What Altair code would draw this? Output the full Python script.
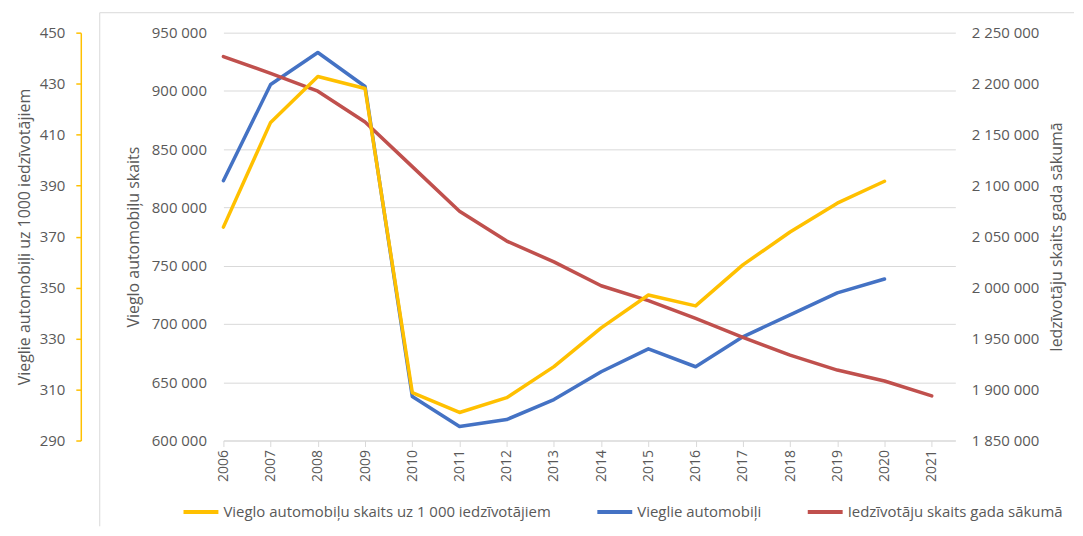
import altair as alt
import pandas as pd

years = list(range(2006, 2022))
cars = [823000, 905500, 933000, 903800, 637700, 612000, 618000, 635100,
        659000, 678700, 663300, 689000, 707800, 726700, 738600]
cars_per_1000 = [373.7, 414.8, 432.8, 428.1, 308.8, 301.0, 306.8, 319.0,
                 334.2, 347.1, 342.8, 358.9, 371.8, 383.1, 391.7]
population = [2226600, 2210100, 2192600, 2162400, 2118600, 2074800, 2045600,
              2025200, 2001800, 1987200, 1969700, 1951200, 1933700, 1919100,
              1908400, 1893800]

s_rate = "Vieglo automobiļu skaits uz 1 000 iedzīvotājiem"
s_cars = "Vieglie automobiļi"
s_pop = "Iedzīvotāju skaits gada sākumā"
series_names = [s_rate, s_cars, s_pop]
series_colors = ["#FFC000", "#4472C4", "#C0504D"]

left_ticks = [290, 310, 330, 350, 370, 390, 410, 430, 450]
mid_ticks = list(range(600000, 950001, 50000))
right_ticks = list(range(1850000, 2250001, 50000))

df_rate = pd.DataFrame({"year": years[:len(cars_per_1000)], "value": cars_per_1000, "series": s_rate})
df_cars = pd.DataFrame({"year": years[:len(cars)], "value": cars, "series": s_cars})
df_pop = pd.DataFrame({"year": years, "value": population, "series": s_pop})

FONT = "Open Sans"
GRAY = "#595959"
LBL = 15
TTL = 16
space_fmt = "replace(replace(format(datum.value, ','), ',', ' '), ',', ' ')"

x_enc = alt.X("year:Q",
              scale=alt.Scale(domain=[2006, 2021.5], nice=False, zero=False),
              axis=alt.Axis(values=years, format="d", labelAngle=-90, title=None,
                            grid=False, labelColor=GRAY, labelFontSize=14,
                            labelFont=FONT, domainColor="#D9D9D9", tickColor="#D9D9D9",
                            tickSize=6, labelPadding=3, labelAlign="right",
                            labelBaseline="middle"))

color_enc = alt.Color("series:N",
                      scale=alt.Scale(domain=series_names, range=series_colors),
                      legend=alt.Legend(title=None, orient="none", legendX=-42, legendY=461,
                                        direction="horizontal", symbolType="stroke",
                                        symbolStrokeWidth=4, symbolSize=1225,
                                        labelFont=FONT, labelFontSize=15,
                                        labelColor=GRAY, columnPadding=38,
                                        labelLimit=400, labelOffset=3))

line_props = dict(strokeWidth=3.5, strokeJoin="round", strokeCap="round")

cars_layer = alt.Chart(df_cars).mark_line(**line_props).encode(
    x=x_enc,
    y=alt.Y("value:Q",
            scale=alt.Scale(domain=[600000, 950000], nice=False, zero=False),
            axis=alt.Axis(orient="left", values=mid_ticks, labelExpr=space_fmt,
                          title="Vieglo automobiļu skaits", grid=True, gridColor="#D9D9D9",
                          domain=False, ticks=False, labelPadding=17, titlePadding=10,
                          labelFont=FONT, labelFontSize=LBL, labelColor=GRAY,
                          titleFont=FONT, titleFontSize=TTL, titleFontWeight="normal",
                          titleColor=GRAY)),
    color=color_enc,
)

pop_layer = alt.Chart(df_pop).mark_line(**line_props).encode(
    x=x_enc,
    y=alt.Y("value:Q",
            scale=alt.Scale(domain=[1850000, 2250000], nice=False, zero=False),
            axis=alt.Axis(orient="right", values=right_ticks, labelExpr=space_fmt,
                          title="Iedzīvotāju skaits gada sākumā", grid=False,
                          domain=False, ticks=False, labelPadding=16, titlePadding=10,
                          titleAngle=-90, titleBaseline="top",
                          labelFont=FONT, labelFontSize=LBL, labelColor=GRAY,
                          titleFont=FONT, titleFontSize=TTL, titleFontWeight="normal",
                          titleColor=GRAY)),
    color=color_enc,
)

rate_layer = alt.Chart(df_rate).mark_line(**line_props).encode(
    x=x_enc,
    y=alt.Y("value:Q",
            scale=alt.Scale(domain=[290, 450], nice=False, zero=False),
            axis=alt.Axis(orient="left", offset=143, values=left_ticks,
                          title="Vieglie automobiļi uz 1000 iedzīvotājiem", grid=False,
                          domain=True, domainColor="#FFC000", domainWidth=1.5,
                          ticks=True, tickColor="#FFC000", tickSize=5, tickWidth=1.5,
                          labelPadding=11, titlePadding=7,
                          labelFont=FONT, labelFontSize=LBL, labelColor=GRAY,
                          titleFont=FONT, titleFontSize=TTL, titleFontWeight="normal",
                          titleColor=GRAY)),
    color=color_enc,
)

frame_v = alt.Chart(pd.DataFrame({"k": [0]})).mark_rule(color="#D9D9D9", strokeWidth=1).encode(
    x=alt.value(-124), y=alt.value(-20), y2=alt.value(495))
frame_h = alt.Chart(pd.DataFrame({"k": [0]})).mark_rule(color="#D9D9D9", strokeWidth=1).encode(
    x=alt.value(-124), x2=alt.value(853), y=alt.value(-20))

chart = alt.layer(cars_layer, pop_layer, rate_layer, frame_v, frame_h).resolve_scale(
    y="independent", color="shared"
).properties(
    width=734, height=409,
    padding={"top": 3, "left": 8, "right": 0, "bottom": 0},
    background="white",
).configure_view(stroke=None)

chart.save("out.html", embed_options={"renderer": "svg", "actions": False})
